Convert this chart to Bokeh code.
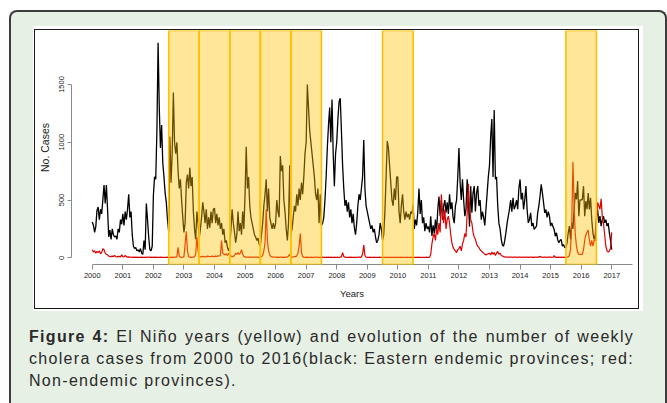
from bokeh.plotting import figure
from bokeh.models import Range1d, BoxAnnotation, FixedTicker, Div
from bokeh.layouts import column
from bokeh.embed import file_html
from bokeh.resources import INLINE

# ---------------- data (~2 values per month) ----------------
year_ticks = list(range(2000, 2018))
y_ticks = [0, 500, 1000, 1500]
nino_years = [2002, 2003, 2004, 2005, 2006, 2009, 2015]  # El Niño periods (mid-year to mid-year)
steps_per_year = 26

# Eastern endemic provinces (black)
east_2000 = [310, 280, 220, 270, 410, 440, 330, 420, 380, 500, 630, 470, 630, 420, 180, 240, 160, 250, 200, 180, 190, 160, 250, 220, 330, 290]
east_2001 = [380, 280, 400, 330, 420, 550, 350, 400, 200, 100, 80, 90, 60, 70, 50, 80, 40, 30, 150, 70, 470, 330, 180, 70, 60, 100]
east_2002 = [540, 700, 680, 1100, 1860, 1300, 950, 1150, 820, 700, 560, 480, 330, 230, 1050, 650, 900, 1430, 1000, 900, 1000, 750, 600, 680, 500, 350]
east_2003 = [220, 300, 650, 720, 600, 780, 620, 700, 400, 250, 160, 400, 300, 170, 250, 350, 480, 400, 300, 420, 250, 350, 260, 400, 300, 420]
east_2004 = [430, 300, 380, 280, 350, 250, 300, 200, 250, 130, 150, 90, 60, 100, 250, 420, 300, 220, 130, 200, 400, 230, 300, 200, 400, 250]
east_2005 = [550, 960, 600, 700, 450, 350, 300, 250, 200, 180, 150, 170, 120, 100, 200, 300, 450, 550, 680, 400, 600, 350, 300, 250, 300, 250]
east_2006 = [300, 500, 400, 350, 880, 750, 800, 500, 400, 250, 150, 300, 800, 200, 250, 350, 450, 400, 550, 450, 600, 500, 650, 550, 700, 900]
east_2007 = [1000, 1500, 1300, 1100, 1000, 900, 800, 700, 550, 500, 600, 300, 550, 280, 300, 350, 500, 700, 950, 1150, 1300, 1000, 1370, 900, 620, 900]
east_2008 = [1000, 1200, 1350, 1380, 1100, 800, 600, 450, 500, 400, 480, 350, 420, 300, 380, 260, 200, 300, 450, 550, 500, 600, 700, 1020, 600, 450]
east_2009 = [400, 350, 300, 250, 280, 220, 250, 180, 130, 150, 200, 300, 250, 150, 200, 400, 700, 1010, 950, 800, 650, 500, 450, 600, 500, 700]
east_2010 = [700, 400, 300, 450, 550, 400, 330, 400, 350, 380, 330, 400, 380, 460, 250, 330, 280, 400, 600, 380, 500, 300, 350, 230, 300, 250]
east_2011 = [270, 220, 360, 190, 280, 210, 330, 220, 420, 530, 360, 500, 330, 450, 500, 390, 480, 380, 550, 420, 480, 350, 300, 450, 500, 700]
east_2012 = [950, 650, 500, 680, 500, 360, 420, 680, 500, 270, 620, 390, 560, 620, 400, 560, 620, 450, 500, 330, 400, 350, 280, 420, 560, 700]
east_2013 = [800, 1050, 1200, 700, 1280, 680, 700, 450, 300, 250, 160, 110, 100, 150, 220, 300, 360, 420, 500, 400, 520, 420, 450, 500, 420, 600]
east_2014 = [678, 505, 562, 418, 500, 620, 418, 302, 330, 389, 274, 302, 245, 260, 274, 389, 450, 533, 635, 562, 476, 389, 418, 350, 400, 360]
east_2015 = [274, 302, 270, 245, 187, 216, 159, 130, 150, 159, 101, 115, 90, 86, 130, 216, 274, 159, 302, 250, 418, 562, 505, 664, 360, 500]
east_2016 = [500, 505, 620, 360, 490, 420, 560, 418, 520, 331, 216, 159, 200, 360, 418, 302, 360, 274, 331, 360, 302, 330, 274, 300, 216, 150]
east_end = [72]

# Non-endemic provinces (red)
non_2000 = [70, 50, 60, 40, 55, 45, 60, 35, 45, 80, 70, 40, 30, 25, 15, 12, 10, 15, 12, 20, 10, 8, 12, 10, 8, 25]
non_2001 = [10, 8, 20, 10, 6, 8, 5, 5, 4, 5, 4, 6, 4, 5, 3, 4, 5, 4, 3, 5, 4, 5, 6, 4, 5, 4]
non_2002 = [5, 4, 5, 4, 3, 4, 5, 4, 3, 4, 3, 4, 5, 4, 3, 4, 5, 4, 6, 5, 8, 90, 15, 5, 4, 6]
non_2003 = [10, 120, 230, 60, 10, 5, 4, 5, 6, 8, 30, 180, 60, 15, 10, 8, 12, 10, 8, 10, 15, 12, 10, 12, 15, 10]
non_2004 = [12, 15, 10, 18, 15, 20, 150, 40, 30, 25, 35, 20, 40, 25, 15, 10, 12, 20, 40, 30, 45, 30, 40, 70, 30, 10]
non_2005 = [8, 6, 5, 6, 5, 6, 5, 4, 5, 6, 5, 4, 5, 6, 8, 20, 60, 130, 420, 150, 60, 25, 10, 8, 6, 5]
non_2006 = [5, 4, 5, 4, 6, 5, 4, 5, 4, 5, 6, 15, 30, 10, 6, 8, 12, 10, 15, 40, 100, 210, 50, 10, 6, 4]
non_2007 = [5, 4, 6, 3, 4, 5, 3, 4, 6, 5, 4, 3, 5, 4, 6, 4, 3, 5, 4, 6, 3, 5, 4, 3, 5, 4]
non_2008 = [4, 5, 3, 6, 10, 45, 12, 5, 4, 3, 5, 4, 6, 4, 3, 5, 4, 3, 5, 6, 4, 8, 30, 110, 20, 5]
non_2009 = [4, 3, 5, 4, 3, 4, 5, 3, 4, 3, 5, 4, 3, 4, 3, 5, 4, 3, 4, 5, 3, 4, 3, 4, 5, 3]
non_2010 = [4, 3, 4, 5, 3, 4, 3, 4, 5, 3, 4, 3, 5, 4, 3, 4, 3, 4, 5, 3, 4, 3, 4, 3, 5, 4]
non_2011 = [4, 5, 30, 120, 180, 210, 150, 250, 200, 300, 220, 550, 380, 300, 420, 250, 330, 360, 300, 200, 130, 90, 72, 60, 45, 70]
non_2012 = [80, 100, 60, 120, 150, 210, 180, 390, 640, 420, 330, 300, 220, 180, 160, 120, 100, 90, 70, 60, 50, 40, 30, 25, 30, 35]
non_2013 = [40, 25, 50, 30, 45, 20, 40, 55, 30, 40, 20, 15, 10, 8, 6, 5, 6, 5, 6, 5, 4, 5, 6, 5, 4, 5]
non_2014 = [5, 4, 6, 5, 4, 5, 6, 4, 5, 6, 4, 5, 4, 6, 5, 4, 8, 12, 6, 5, 4, 6, 5, 4, 5, 6]
non_2015 = [5, 4, 5, 20, 4, 5, 4, 5, 4, 5, 4, 5, 4, 5, 6, 8, 20, 80, 300, 830, 450, 200, 100, 50, 30, 30]
non_2016 = [30, 30, 70, 150, 200, 220, 240, 150, 100, 150, 100, 150, 150, 300, 480, 450, 420, 510, 350, 300, 200, 100, 60, 50, 60, 80]
non_end = [220]

eastern = (east_2000 + east_2001 + east_2002 + east_2003 + east_2004 + east_2005 + east_2006 + east_2007 + east_2008
           + east_2009 + east_2010 + east_2011 + east_2012 + east_2013 + east_2014 + east_2015 + east_2016 + east_end)
non_endemic = (non_2000 + non_2001 + non_2002 + non_2003 + non_2004 + non_2005 + non_2006 + non_2007 + non_2008
               + non_2009 + non_2010 + non_2011 + non_2012 + non_2013 + non_2014 + non_2015 + non_2016 + non_end)
t = [2000 + i / steps_per_year for i in range(len(eastern))]

caption_bold = "Figure 4:"
caption_lines = [
    "El Niño years (yellow) and evolution of the number of weekly",
    "cholera cases from 2000 to 2016(black: Eastern endemic provinces; red:",
    "Non-endemic provinces).",
]

FONT = "Liberation Sans"

# ---------------- chart ----------------
p = figure(width=603, height=278, output_backend="svg", toolbar_location=None,
           x_range=Range1d(1999.32, 2017.68), y_range=Range1d(-58, 1967),
           min_border_left=35, min_border_right=6, min_border_top=0, min_border_bottom=44)
p.grid.visible = False
p.outline_line_color = None
p.background_fill_color = "white"
p.border_fill_color = "white"

p.line(t, eastern, line_color="black", line_width=1.3)
p.line(t, non_endemic, line_color="#e00000", line_width=1.2)

for y in nino_years:
    p.add_layout(BoxAnnotation(left=y + 0.5, right=y + 1.5, fill_color="#FFC000", fill_alpha=0.4,
                               line_color="#FFC000", line_alpha=1.0, line_width=1.6))

xa = p.xaxis[0]
xa.ticker = FixedTicker(ticks=year_ticks)
xa.bounds = (2000, 2017.68)
xa.axis_line_color = "#8a8a8a"
xa.major_tick_line_color = "#8a8a8a"
xa.minor_tick_line_color = None
xa.major_tick_out = 5
xa.major_tick_in = 0
xa.major_label_standoff = 3
xa.major_label_text_font = FONT
xa.major_label_text_font_size = "7.5px"
xa.major_label_text_color = "#222222"
xa.axis_label = "Years"
xa.axis_label_text_font = FONT
xa.axis_label_text_font_size = "9.5px"
xa.axis_label_text_font_style = "normal"
xa.axis_label_text_color = "#222222"
xa.axis_label_standoff = 7

ya = p.yaxis[0]
ya.ticker = FixedTicker(ticks=y_ticks)
ya.bounds = (0, 1500)
ya.axis_line_color = "#8a8a8a"
ya.major_tick_line_color = "#8a8a8a"
ya.minor_tick_line_color = None
ya.major_tick_out = 4
ya.major_tick_in = 0
ya.major_label_standoff = 3
ya.major_label_orientation = "vertical"
ya.major_label_text_font = FONT
ya.major_label_text_font_size = "7.5px"
ya.major_label_text_color = "#222222"
ya.axis_label = "No. Cases"
ya.axis_label_text_font = FONT
ya.axis_label_text_font_size = "10.5px"
ya.axis_label_text_font_style = "normal"
ya.axis_label_text_color = "#222222"
ya.axis_label_standoff = 6

# ---------------- card layout ----------------
boxed = column(p, styles={"border": "1px solid #1a1a1a"})
white = column(boxed, styles={"background-color": "white", "padding": "3px 4px 2px 1px",
                              "margin-left": "22px", "margin-top": "14px"})

line_style = ("font-family: 'Liberation Sans', Arial, sans-serif; font-size: 16px; letter-spacing: 1.3px; "
              "line-height: 22px; color: #2a2a2a; white-space: nowrap;")
justify = "text-align: justify; text-align-last: justify;"
caption_html = (
    f'<div style="{line_style} {justify}"><b>{caption_bold}</b> {caption_lines[0]}</div>'
    f'<div style="{line_style} {justify}">{caption_lines[1]}</div>'
    f'<div style="{line_style} text-align: left;">{caption_lines[2]}</div>'
)
caption = Div(text=caption_html, width=622,
              styles={"margin-left": "18px", "margin-top": "15px"})

card = column(white, caption, styles={
    "background-color": "#e7f0e5",
    "border-top": "2px solid #3c3c3c", "border-left": "2px solid #3c3c3c",
    "border-right": "2px solid #3c3c3c",
    "border-top-left-radius": "8px", "border-top-right-radius": "8px",
    "box-sizing": "border-box", "width": "658px", "height": "393px",
})
root = column(card, styles={"padding": "10px 0 0 9px"})

open("out.html", "w").write(file_html(root, INLINE))
